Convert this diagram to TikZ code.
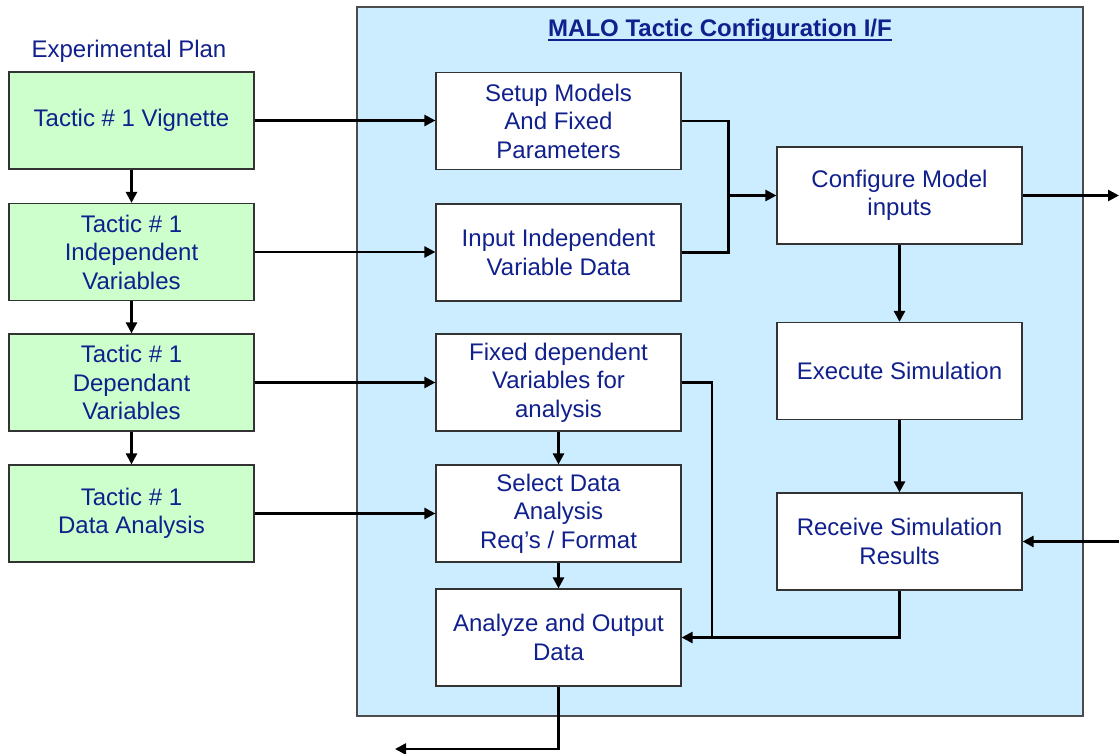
\documentclass[tikz,border=0pt]{standalone}
\usepackage{fontspec}
\setmainfont{Liberation Sans}
\usetikzlibrary{arrows.meta,calc}
\definecolor{txt}{RGB}{16,32,140}
\definecolor{greenfill}{RGB}{204,255,204}
\definecolor{bluefill}{RGB}{204,236,255}
\begin{document}
\begin{tikzpicture}[x=1pt,y=-1pt,
  font=\fontsize{24}{28.5}\selectfont,
  box/.style={draw=black!80,line width=1.2pt,minimum width=245pt,minimum height=97pt,align=center,text=txt,inner sep=2pt},
  gbox/.style={box,fill=greenfill},
  wbox/.style={box,fill=white},
  conn/.style={line width=2.5pt,-{Triangle[length=11pt,width=11pt]}},
  plainline/.style={line width=2.5pt}]
\useasboundingbox (0,0) rectangle (1119,754);
\fill[white] (0,0) rectangle (1119,754);
% panel
\draw[fill=bluefill,draw=black!70,line width=1.2pt] (357,7) rectangle (1083,716);
\node[font={\fontsize{24}{28.5}\selectfont\bfseries},text=txt,anchor=base,inner sep=0] (title) at (720,37) {MALO Tactic Configuration I/F};
\draw[txt,line width=2pt] ([yshift=-3pt]title.base west) -- ([yshift=-3pt]title.base east);
\node[text=txt,anchor=base,inner sep=0] (plan) at (129,58) {Experimental Plan};
% green column
\node[gbox] (G1) at (131.5,120.5) {Tactic \# 1 Vignette};
\node[gbox] (G2) at (131.5,252) {Tactic \# 1\\Independent\\Variables};
\node[gbox] (G3) at (131.5,382.5) {Tactic \# 1\\Dependant\\Variables};
\node[gbox] (G4) at (131.5,513.5) {Tactic \# 1\\Data Analysis};
% white left column
\node[wbox] (W1) at (558.5,121) {Setup Models\\And Fixed\\Parameters};
\node[wbox] (W2) at (558.5,252.5) {Input Independent\\Variable Data};
\node[wbox] (W3) at (558.5,382.5) {Fixed dependent\\Variables for\\analysis};
\node[wbox] (W4) at (558.5,513.5) {Select Data\\Analysis\\Req’s / Format};
\node[wbox] (W5) at (558.5,637.5) {Analyze and Output\\Data};
% right column
\node[wbox] (C) at (899.5,195.5) {Configure Model\\inputs};
\node[wbox] (E) at (899.5,371) {Execute Simulation};
\node[wbox] (R) at (899.5,541.5) {Receive Simulation\\Results};
% coordinates
\path (C.west) ++(-48,0) coordinate (m);
\coordinate (o1) at (1119,195.5);
\coordinate (i1) at (1119,541.5);
\coordinate (j) at (712,637.5);
\coordinate (o2) at (395,749);
% connectors
\draw[conn] (G1.south) -- (G2.north);
\draw[conn] (G2.south) -- (G3.north);
\draw[conn] (G3.south) -- (G4.north);
\draw[conn] (G1.east) -- (G1.east -| W1.west);
\draw[conn] (G2.east) -- (G2.east -| W2.west);
\draw[conn] (G3.east) -- (G3.east -| W3.west);
\draw[conn] (G4.east) -- (G4.east -| W4.west);
\draw[plainline] (W1.east) -| (m);
\draw[plainline] (W2.east) -| (m);
\draw[conn] (m) -- (C.west);
\draw[conn] (C.east) -- (o1);
\draw[conn] (C.south) -- (E.north);
\draw[conn] (E.south) -- (R.north);
\draw[conn] (i1) -- (R.east);
\draw[conn] (W3.south) -- (W4.north);
\draw[conn] (W4.south) -- (W5.north);
\draw[plainline] (W3.east) -| (j);
\draw[plainline] (R.south) |- (j);
\draw[conn] (j) -- (W5.east);
\draw[conn] (W5.south) |- (o2);
\end{tikzpicture}
\end{document}
